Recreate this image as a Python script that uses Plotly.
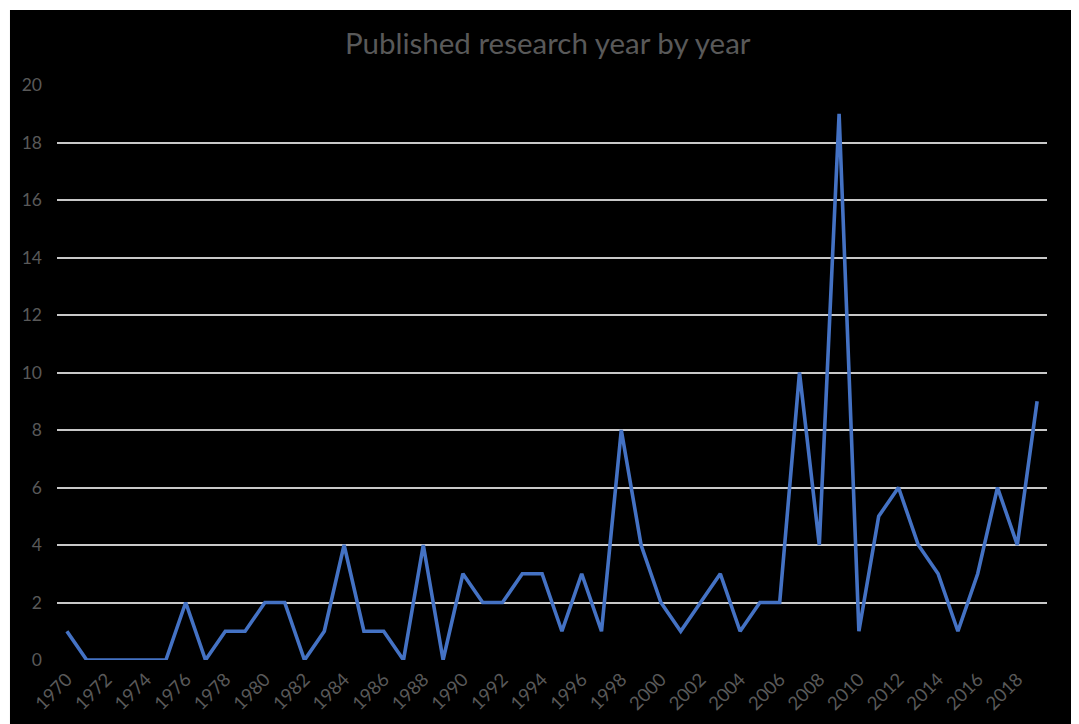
import plotly.graph_objects as go

years = list(range(1970, 2020))
counts = [1, 0, 0, 0, 0, 0, 2, 0, 1, 1,
          2, 2, 0, 1, 4, 1, 1, 0, 4, 0,
          3, 2, 2, 3, 3, 1, 3, 1, 8, 4,
          2, 1, 2, 3, 1, 2, 2, 10, 4, 19,
          1, 5, 6, 4, 3, 1, 3, 6, 4, 9]
tick_years = list(range(1970, 2019, 2))
y_ticks = list(range(0, 21, 2))

title = "Published research year by year"
grey = "#595959"
font = "Lato, 'Open Sans', sans-serif"

fig = go.Figure()
fig.add_trace(go.Scatter(x=years, y=counts, mode="lines",
                         line=dict(color="#4472C4", width=3.6),
                         hoverinfo="x+y", showlegend=False))

fig.update_layout(
    width=1071, height=716,
    margin=dict(l=49, r=32, t=77, b=64),
    paper_bgcolor="black", plot_bgcolor="black",
    title=dict(text=title, x=0.504, xanchor="center", y=0.95, yanchor="middle",
               font=dict(family=font, size=29.5, color=grey)),
    font=dict(family=font, color=grey, size=17),
    xaxis=dict(range=[1969.5, 2019.5], tickvals=tick_years,
               ticktext=[str(y) for y in tick_years], tickangle=-45,
               showgrid=False, zeroline=False, showline=False,
               ticklabelstandoff=4, automargin=False,
               tickfont=dict(size=18.5, color=grey), ticks=""),
    yaxis=dict(range=[0, 20], tickvals=y_ticks, showgrid=True,
               gridcolor="#C8C8C8", gridwidth=1.5, zeroline=False,
               showline=False, ticks="", ticklabelstandoff=14,
               automargin=False,
               tickfont=dict(size=17.5, color=grey)),
    shapes=[
        dict(type="rect", xref="paper", yref="paper", x0=-0.2, x1=1.2,
             y0=1.1304, y1=1.3, fillcolor="white", line_width=0, layer="below"),
        dict(type="rect", xref="paper", yref="paper", x0=-0.2, x1=-0.0475,
             y0=-0.3, y1=1.3, fillcolor="white", line_width=0, layer="below"),
        dict(type="rect", xref="paper", yref="paper", x0=1.0303, x1=1.2,
             y0=-0.3, y1=1.3, fillcolor="white", line_width=0, layer="below"),
    ],
)

fig.write_html("out.html")
